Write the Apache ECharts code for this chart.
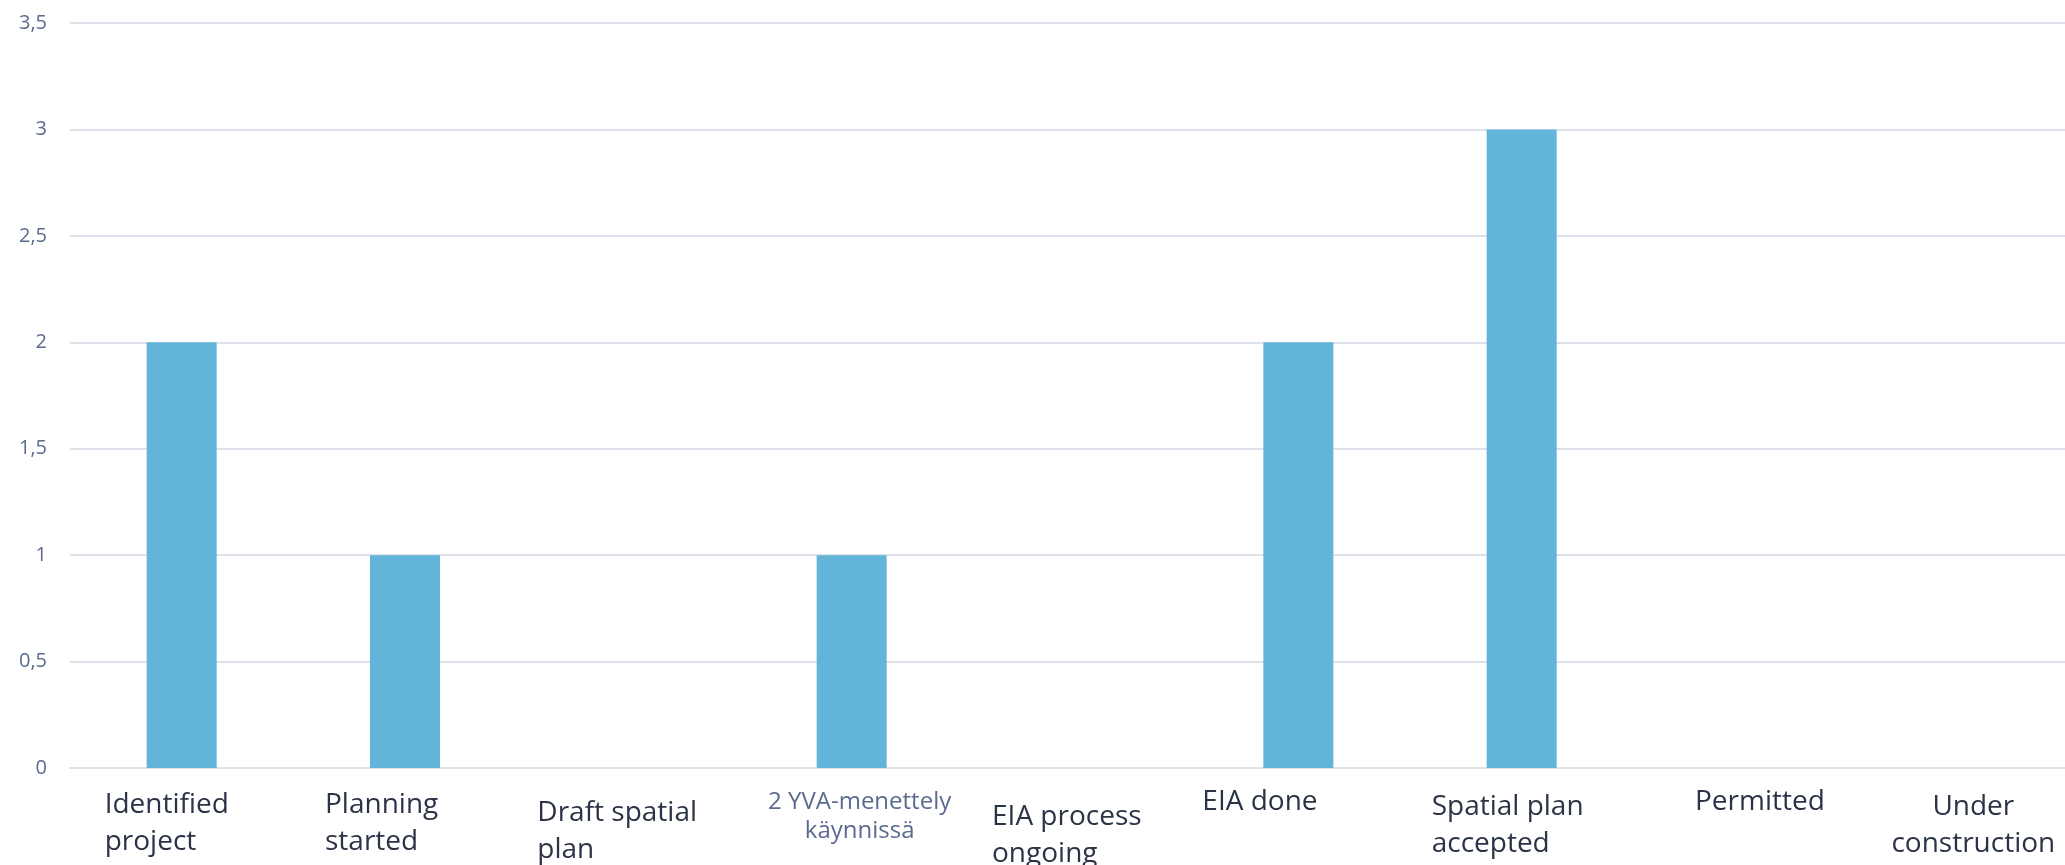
<!DOCTYPE html>
<html>
<head>
<meta charset="utf-8">
<script src="https://cdn.jsdelivr.net/npm/echarts@6/dist/echarts.min.js"></script>
<style>
html,body{margin:0;padding:0;background:#fff;}
#main{width:2065px;height:865px;}
</style>
</head>
<body>
<div id="main"></div>
<script>
// ---- data ----
const categories = [
  'Identified\nproject',
  'Planning\nstarted',
  'Draft spatial\nplan',
  '2 YVA-menettely\nkäynnissä',
  'EIA process\nongoing',
  'EIA done',
  'Spatial plan\naccepted',
  'Permitted',
  'Under\nconstruction'
];
const values = [2, 1, 0, 1, 0, 2, 3, 0, 0];
const yMin = 0, yMax = 3.5, yInterval = 0.5;

// ---- label layout (style only) ----
const labelLayout = [
  {dx: -77, dy: 37, align: 'left'},
  {dx: -80, dy: 37, align: 'left'},
  {dx: -91, dy: 45, align: 'left'},
  {dx: 8,   dy: 34, align: 'center', small: true},
  {dx: -83, dy: 49, align: 'left'},
  {dx: -96, dy: 34, align: 'left'},
  {dx: -90, dy: 39, align: 'left'},
  {dx: -50, dy: 34, align: 'left'},
  {dx: 5,   dy: 39, align: 'center'}
];

const chart = echarts.init(document.getElementById('main'), null, {renderer: 'canvas'});
const gridColor = '#dde1ea';
chart.setOption({
  animation: false,
  backgroundColor: '#ffffff',
  grid: {left: 70, top: 23, width: 2010, height: 745, containLabel: false, outerBoundsMode: 'none'},
  xAxis: {
    type: 'category',
    data: categories,
    axisLine: {show: true, lineStyle: {color: gridColor, width: 2}},
    axisTick: {show: false},
    axisLabel: {show: false},
    splitLine: {show: false}
  },
  yAxis: {
    type: 'value',
    min: yMin, max: yMax, interval: yInterval,
    axisLine: {show: false},
    axisTick: {show: false},
    axisLabel: {
      color: '#5b6b8c', fontSize: 20, fontFamily: 'Open Sans', margin: 23,
      formatter: v => String(v).replace('.', ',')
    },
    splitLine: {lineStyle: {color: gridColor, width: 2}}
  },
  series: [{
    type: 'bar',
    data: values,
    barWidth: 70,
    itemStyle: {color: '#62b4d9'}
  }]
});

const baseY = chart.convertToPixel({yAxisIndex: 0}, 0);
const graphics = categories.map((c, i) => {
  const L = labelLayout[i];
  const cx = chart.convertToPixel({xAxisIndex: 0}, i);
  const lh = L.small ? 29 : 37;
  return {
    type: 'text',
    x: cx + L.dx,
    y: baseY + L.dy - lh / 2,
    style: {
      text: c,
      fontFamily: 'Open Sans',
      fontSize: L.small ? 24 : 28,
      lineHeight: lh,
      fill: L.small ? '#5b6b8f' : '#2b3446',
      align: L.align,
      verticalAlign: 'top'
    }
  };
});
chart.setOption({graphic: graphics});
</script>
</body>
</html>
